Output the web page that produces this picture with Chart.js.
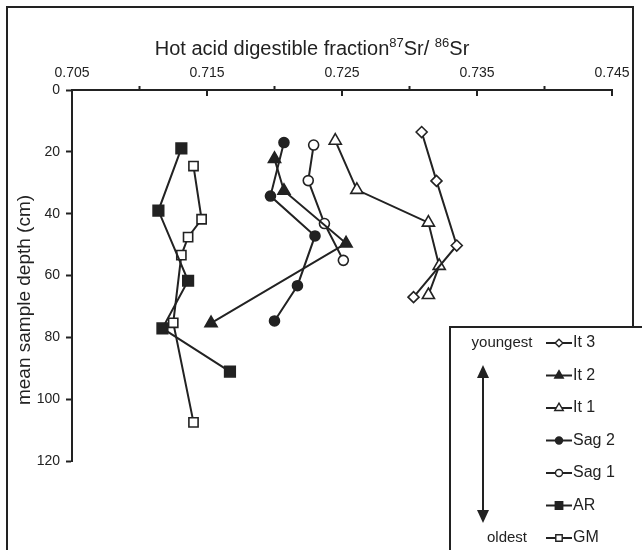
<!DOCTYPE html>
<html>
<head>
<meta charset="utf-8">
<script src="https://cdn.jsdelivr.net/npm/chart.js"></script>
<style>
  body { margin: 0; background: #fff; }
  #wrap { position: relative; width: 642px; height: 550px; overflow: hidden; }
  #frame { position: absolute; left: 6px; top: 6px; width: 624px; height: 600px; border: 2px solid #222; }
  canvas { position: absolute; left: 0; top: 0; }
</style>
</head>
<body>
<div id="wrap">
  <div id="frame"></div>
  <canvas id="myChart" width="642" height="550"></canvas>
</div>
<script>
// 87Sr/86Sr ratio (x) against mean sample depth in cm (y), one pair of arrays per site
const it3Ratio = [0.7309, 0.7320, 0.7335, 0.7303];
const it3Depth = [13.6, 29.4, 50.3, 67.0];
const it2Ratio = [0.7200, 0.7207, 0.7253, 0.7153];
const it2Depth = [22.3, 32.6, 49.6, 75.4];
const it1Ratio = [0.7245, 0.7261, 0.7314, 0.7322, 0.7314];
const it1Depth = [16.4, 32.3, 42.9, 56.9, 66.3];
const sag2Ratio = [0.7207, 0.7197, 0.7230, 0.7217, 0.7200];
const sag2Depth = [17.0, 34.3, 47.2, 63.3, 74.7];
const sag1Ratio = [0.7229, 0.7225, 0.7237, 0.7251];
const sag1Depth = [17.8, 29.3, 43.2, 55.1];
const arRatio = [0.7131, 0.7114, 0.7136, 0.7117, 0.7167];
const arDepth = [18.9, 39.0, 61.7, 77.1, 91.1];
const gmRatio = [0.7140, 0.7146, 0.7136, 0.7131, 0.7125, 0.7140];
const gmDepth = [24.6, 41.8, 47.6, 53.4, 75.3, 107.5];

const seriesNames = ['It 3', 'It 2', 'It 1', 'Sag 2', 'Sag 1', 'AR', 'GM'];
const xTicks = [0.705, 0.715, 0.725, 0.735, 0.745];
const yTicks = [0, 20, 40, 60, 80, 100, 120];

const ink = '#222';
const font = 'Liberation Sans, Arial, sans-serif';

function pts(xs, ys) {
  return xs.map((x, i) => ({ x: x, y: ys[i] }));
}

function series(name, xs, ys, style, filled, radius) {
  return {
    label: name,
    data: pts(xs, ys),
    showLine: true,
    borderColor: ink,
    borderWidth: 2,
    pointStyle: style,
    pointRadius: radius,
    pointBorderWidth: 1.6,
    pointBorderColor: ink,
    pointBackgroundColor: filled ? ink : '#fff'
  };
}

// axis titles (with real superscripts), inward ticks on the top axis, and the boxed legend
const decor = {
  id: 'decor',
  afterDraw(chart) {
    const ctx = chart.ctx;
    const xs = chart.scales.x;
    const top = chart.chartArea.top;
    ctx.save();
    ctx.strokeStyle = ink;
    ctx.lineWidth = 2;
    xs.ticks.forEach(t => {
      const p = xs.getPixelForValue(t.value);
      const major = Math.round(t.value * 1000) % 10 === 5;
      ctx.beginPath();
      if (major) { ctx.moveTo(p, top); ctx.lineTo(p, top + 6); }
      else { ctx.moveTo(p, top - 4); ctx.lineTo(p, top); }
      ctx.stroke();
    });

    // x title
    const parts = [
      ['Hot acid digestible fraction', 20, 0],
      ['87', 13, -8],
      ['Sr/ ', 20, 0],
      ['86', 13, -8],
      ['Sr', 20, 0]
    ];
    let w = 0;
    parts.forEach(p => { ctx.font = p[1] + 'px ' + font; w += ctx.measureText(p[0]).width; });
    let x = 312 - w / 2;
    ctx.fillStyle = ink;
    ctx.textBaseline = 'alphabetic';
    ctx.textAlign = 'left';
    parts.forEach(p => {
      ctx.font = p[1] + 'px ' + font;
      ctx.fillText(p[0], x, 55 + p[2]);
      x += ctx.measureText(p[0]).width;
    });

    // y title
    ctx.save();
    ctx.translate(25, 300);
    ctx.rotate(-Math.PI / 2);
    ctx.textAlign = 'center';
    ctx.textBaseline = 'middle';
    ctx.font = '19px ' + font;
    ctx.fillText('mean sample depth (cm)', 0, 0);
    ctx.restore();

    // legend box
    const bx = 450, by = 327;
    ctx.fillStyle = '#fff';
    ctx.fillRect(bx, by, 200, 240);
    ctx.lineWidth = 2;
    ctx.strokeRect(bx, by, 200, 240);

    ctx.fillStyle = ink;
    ctx.font = '15px ' + font;
    ctx.textAlign = 'center';
    ctx.textBaseline = 'middle';
    ctx.fillText('youngest', 502, 343);
    ctx.fillText('oldest', 507, 538);

    // double arrow
    ctx.beginPath();
    ctx.moveTo(483, 374); ctx.lineTo(483, 514);
    ctx.stroke();
    ctx.beginPath();
    ctx.moveTo(483, 365); ctx.lineTo(477, 378); ctx.lineTo(489, 378); ctx.closePath();
    ctx.fill();
    ctx.beginPath();
    ctx.moveTo(483, 523); ctx.lineTo(477, 510); ctx.lineTo(489, 510); ctx.closePath();
    ctx.fill();

    ctx.textAlign = 'left';
    ctx.font = '16px ' + font;
    chart.data.datasets.forEach((ds, i) => {
      const ry = 343 + i * 32.5;
      ctx.strokeStyle = ink;
      ctx.lineWidth = 2;
      ctx.beginPath();
      ctx.moveTo(546, ry); ctx.lineTo(572, ry);
      ctx.stroke();
      ctx.fillStyle = ds.pointBackgroundColor;
      ctx.lineWidth = 1.4;
      Chart.helpers.drawPoint(ctx, { pointStyle: ds.pointStyle, radius: ds.pointRadius * 0.7, rotation: 0, borderWidth: 1.4 }, 559, ry);
      ctx.fillStyle = ink;
      ctx.fillText(ds.label, 573, ry);
    });
    ctx.restore();
  }
};

const ctxEl = document.getElementById('myChart');
new Chart(ctxEl, {
  type: 'scatter',
  data: {
    datasets: [
      series(seriesNames[0], it3Ratio, it3Depth, 'rectRot', false, 5.5),
      series(seriesNames[1], it2Ratio, it2Depth, 'triangle', true, 7),
      series(seriesNames[2], it1Ratio, it1Depth, 'triangle', false, 7),
      series(seriesNames[3], sag2Ratio, sag2Depth, 'circle', true, 5),
      series(seriesNames[4], sag1Ratio, sag1Depth, 'circle', false, 5),
      series(seriesNames[5], arRatio, arDepth, 'rect', true, 7.5),
      series(seriesNames[6], gmRatio, gmDepth, 'rect', false, 6.5)
    ]
  },
  options: {
    responsive: false,
    animation: false,
    layout: { padding: { left: 10, top: 10, right: 30, bottom: 89 } },
    plugins: { legend: { display: false }, tooltip: { enabled: false } },
    scales: {
      x: {
        type: 'linear',
        position: 'top',
        min: 0.705,
        max: 0.745,
        afterFit: s => { s.height = 80; },
        ticks: {
          stepSize: 0.005,
          autoSkip: false,
          maxRotation: 0,
          padding: 8,
          color: ink,
          font: { family: font, size: 14 },
          callback: v => xTicks.some(t => Math.abs(t - v) < 1e-6) ? v.toFixed(3) : ''
        },
        grid: { drawOnChartArea: false, drawTicks: false },
        border: { display: true, color: ink, width: 2 }
      },
      y: {
        reverse: true,
        min: 0,
        max: 120,
        afterFit: s => { s.width = 62; },
        afterBuildTicks: s => { s.ticks = yTicks.map(v => ({ value: v })); },
        ticks: {
          padding: 6,
          color: ink,
          font: { family: font, size: 14 }
        },
        grid: { drawOnChartArea: false, tickLength: 6, tickWidth: 2, color: ink },
        border: { display: true, color: ink, width: 2 }
      }
    }
  },
  plugins: [decor]
});
</script>
</body>
</html>
